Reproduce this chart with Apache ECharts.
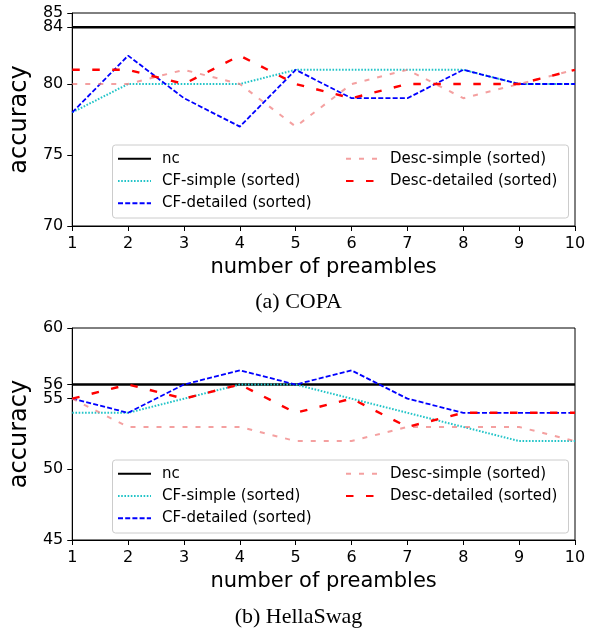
<!DOCTYPE html>
<html>
<head>
<meta charset="utf-8">
<script src="https://cdn.jsdelivr.net/npm/echarts@6/dist/echarts.min.js"></script>
<style>
html,body{margin:0;padding:0;background:#fff;}
#chart{width:597px;height:633px;}
</style>
</head>
<body>
<div id="chart"></div>
<script>
// ---- data ----
const xValues = [1, 2, 3, 4, 5, 6, 7, 8, 9, 10];
const seriesNames = ['nc', 'CF-simple (sorted)', 'CF-detailed (sorted)', 'Desc-simple (sorted)', 'Desc-detailed (sorted)'];

// (a) COPA
const copaNc           = [84, 84, 84, 84, 84, 84, 84, 84, 84, 84];
const copaCfSimple     = [78, 80, 80, 80, 81, 81, 81, 81, 80, 80];
const copaCfDetailed   = [78, 82, 79, 77, 81, 79, 79, 81, 80, 80];
const copaDescSimple   = [80, 80, 81, 80, 77, 80, 81, 79, 80, 81];
const copaDescDetailed = [81, 81, 80, 82, 80, 79, 80, 80, 80, 81];
const copaYTicks = [70, 75, 80, 85];
const copaYExtraTicks = [84];

// (b) HellaSwag
const hsNc           = [56, 56, 56, 56, 56, 56, 56, 56, 56, 56];
const hsCfSimple     = [54, 54, 55, 56, 56, 55, 54, 53, 52, 52];
const hsCfDetailed   = [55, 54, 56, 57, 56, 57, 55, 54, 54, 54];
const hsDescSimple   = [55, 53, 53, 53, 52, 52, 53, 53, 53, 52];
const hsDescDetailed = [55, 56, 55, 56, 54, 55, 53, 54, 54, 54];
const hsYTicks = [45, 50, 55, 60];
const hsYExtraTicks = [56];

const captions = ['(a) COPA', '(b) HellaSwag'];
const xName = 'number of preambles';
const yName = 'accuracy';

// ---- styles ----
const styles = [
  { color: '#000000', width: 2.5, type: 'solid' },
  { color: '#22c4c8', width: 2, type: [1.6, 1.6] },
  { color: '#0000ff', width: 1.8, type: [5, 2.2] },
  { color: 'rgba(240,128,128,0.75)', width: 2, type: [5, 8] },
  { color: '#ff0000', width: 2.4, type: [7.5, 12.5] }
];

const grids = [
  { left: 71.5, right: 22, top: 13, height: 213 },
  { left: 71.5, right: 22, top: 328, height: 212 }
];
const yRanges = [[70, 85, copaYTicks, copaYExtraTicks], [45, 60, hsYTicks, hsYExtraTicks]];
const dataSets = [
  [copaNc, copaCfSimple, copaCfDetailed, copaDescSimple, copaDescDetailed],
  [hsNc, hsCfSimple, hsCfDetailed, hsDescSimple, hsDescDetailed]
];

const axisFont = 'DejaVu Sans';

const xAxes = grids.map((g, i) => ({
  type: 'value', gridIndex: i, min: 1, max: 10, interval: 1,
  name: xName, nameLocation: 'middle', nameGap: 31,
  nameTextStyle: { fontFamily: axisFont, fontSize: 21, color: '#000' },
  axisLine: { show: true, lineStyle: { color: '#000', width: 1 } },
  axisTick: { show: true, length: 5, lineStyle: { color: '#000', width: 1 } },
  axisLabel: { fontFamily: axisFont, fontSize: 16, color: '#000', margin: 10, showMinLabel: true, showMaxLabel: true },
  splitLine: { show: false }
}));

const labelStyle = { fontFamily: axisFont, fontSize: 16, color: '#000', margin: 9, hideOverlap: false, showMinLabel: true, showMaxLabel: true };

const yAxes = [];
grids.forEach((g, i) => {
  yAxes.push({
    type: 'value', gridIndex: i, min: yRanges[i][0], max: yRanges[i][1], position: 'left',
    name: yName, nameLocation: 'middle', nameGap: 27, nameRotate: 90,
    nameTextStyle: { fontFamily: axisFont, fontSize: 24, color: '#000' },
    axisLine: { show: true, onZero: false, lineStyle: { color: '#000', width: 1 } },
    axisTick: { show: true, length: 5, customValues: yRanges[i][2], lineStyle: { color: '#000', width: 1 } },
    axisLabel: Object.assign({ customValues: yRanges[i][2] }, labelStyle),
    splitLine: { show: false }
  });
});
grids.forEach((g, i) => {
  yAxes.push({
    type: 'value', gridIndex: i, min: yRanges[i][0], max: yRanges[i][1], position: 'left', offset: 0,
    axisLine: { show: false, onZero: false },
    axisTick: { show: true, length: 5, customValues: yRanges[i][3], lineStyle: { color: '#000', width: 1 } },
    axisLabel: Object.assign({ customValues: yRanges[i][3] }, labelStyle),
    splitLine: { show: false }
  });
});

const series = [];
dataSets.forEach((set, gi) => {
  set.forEach((vals, si) => {
    series.push({
      name: seriesNames[si], type: 'line', xAxisIndex: gi, yAxisIndex: gi,
      data: xValues.map((x, k) => [x, vals[k]]),
      symbol: 'none', showSymbol: false, silent: true, animation: false,
      z: si === 0 ? 1 : 2 + si,
      lineStyle: { color: styles[si].color, width: styles[si].width, type: styles[si].type, cap: 'butt' },
      itemStyle: { color: styles[si].color }
    });
  });
});

const rowCenters = [[158.3, 181.7, 202.7], [473.3, 496.7, 517.7]];
const legends = [];
rowCenters.forEach((rc, gi) => {
  const common = {
    orient: 'vertical', padding: 0, itemWidth: 33, itemHeight: 14, itemGap: 4.2,
    selectedMode: false, top: rc[0] - 8.5,
    itemStyle: { opacity: 0, borderWidth: 0 },
    textStyle: { fontFamily: axisFont, fontSize: 15, color: '#000', lineHeight: 18, padding: [0, 0, 0, 6] }
  };
  legends.push(Object.assign({}, common, { left: 117, data: seriesNames.slice(0, 3) }));
  legends.push(Object.assign({}, common, { left: 345, data: seriesNames.slice(3) }));
});

const boxes = [{ y: 145 }, { y: 460 }].map(b => ({
  type: 'rect', z: 3, shape: { x: 112.5, y: b.y, width: 456, height: 73, r: 3 },
  style: { fill: 'rgba(255,255,255,0.8)', stroke: '#cccccc', lineWidth: 1 }
}));

const option = {
  animation: false,
  backgroundColor: '#fff',
  title: captions.map((c, i) => ({
    text: c, left: 'center', top: i === 0 ? 291 : 606, padding: 0,
    textStyle: { fontFamily: 'Liberation Serif', fontWeight: 'normal', fontSize: 22, color: '#000' }
  })),
  grid: grids.map(g => Object.assign({ show: true, borderColor: '#000', borderWidth: 1, backgroundColor: 'transparent' }, g)),
  xAxis: xAxes,
  yAxis: yAxes,
  legend: legends,
  graphic: boxes,
  series: series
};

const chart = echarts.init(document.getElementById('chart'), null, { renderer: 'canvas' });
chart.setOption(option);
</script>
</body>
</html>
